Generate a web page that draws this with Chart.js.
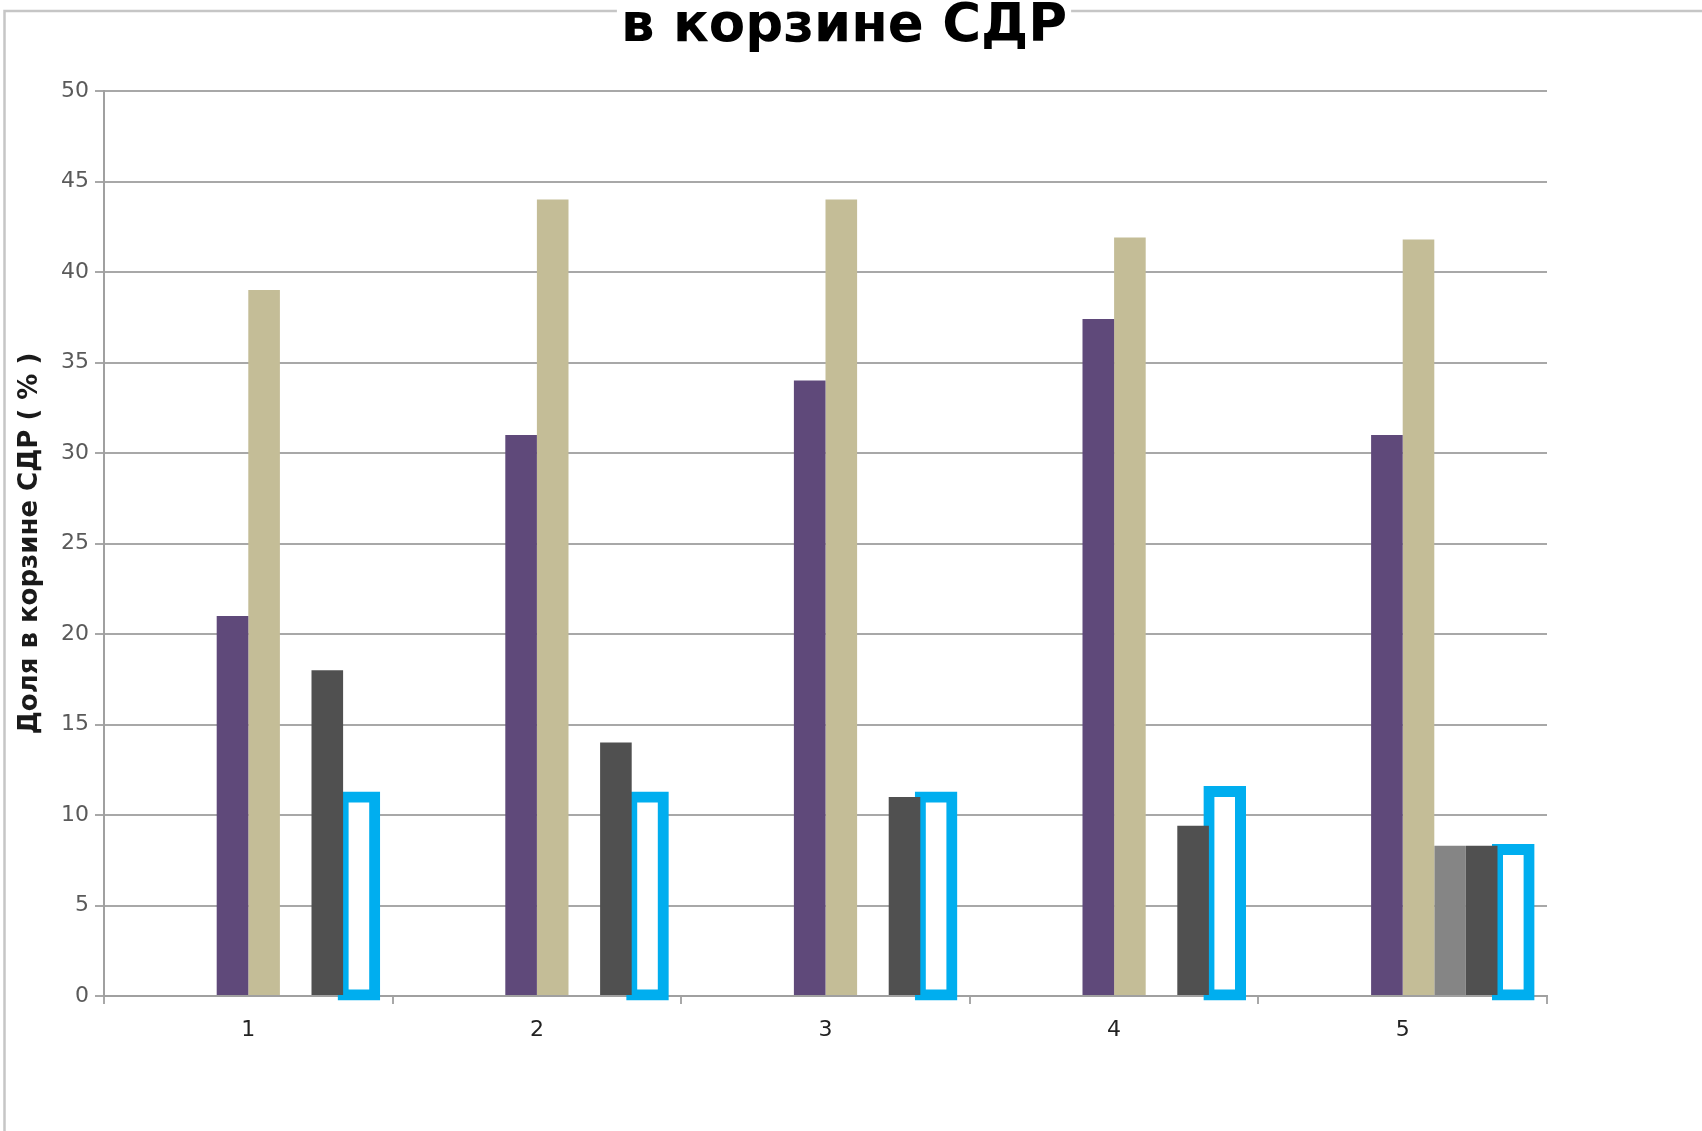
<!DOCTYPE html>
<html>
<head>
<meta charset="utf-8">
<script src="https://cdn.jsdelivr.net/npm/chart.js@4.4.1/dist/chart.umd.min.js"></script>
<style>
  html, body { margin: 0; padding: 0; background: #ffffff; }
  #wrap { width: 1702px; height: 1131px; position: relative; }
  canvas { display: block; }
</style>
</head>
<body>
<div id="wrap"><canvas id="chart" width="1702" height="1131"></canvas></div>
<script>
// Categories and the share of each currency series (percent)
const categories = ['1', '2', '3', '4', '5'];
const purpleSeries = [21, 31, 34, 37.4, 31];
const tanSeries = [39, 44, 44, 41.9, 41.8];
const greySeries = [null, null, null, null, 8.3];
const darkSeries = [18, 14, 11, 9.4, 8.3];
const outlineSeries = [11, 11, 11, 11.3, 8.1];
// three leading slots in each cluster carry no values
const emptySlot = [null, null, null, null, null];
const yTickValues = [0, 5, 10, 15, 20, 25, 30, 35, 40, 45, 50];

const chartTitle = 'в корзине СДР';
const yAxisTitle = 'Доля в корзине СДР ( % )';

const BOLD_SANS = '"DejaVu Sans", Verdana, sans-serif';
const TICK_FONT = { family: '"DejaVu Sans", Verdana, sans-serif', size: 22 };
const TITLE_CSS = 'bold 53px ' + BOLD_SANS;
const AXIS_TITLE_CSS = 'bold 26px ' + BOLD_SANS;
const TITLE_CX_SHIFT = -7;

function titleWidth(ctx) {
  ctx.save();
  ctx.font = TITLE_CSS;
  const w = ctx.measureText(chartTitle).width;
  ctx.restore();
  return w;
}

// outer frame of the chart object, broken where the title sits
const framePlugin = {
  id: 'frame',
  beforeDraw(chart) {
    const ctx = chart.ctx;
    ctx.save();
    ctx.fillStyle = '#ffffff';
    ctx.fillRect(0, 0, chart.width, chart.height);
    const w = titleWidth(ctx);
    const cx = chart.width / 2 + TITLE_CX_SHIFT;
    const y = 11;
    ctx.strokeStyle = '#c6c6c6';
    ctx.lineWidth = 2.5;
    ctx.beginPath();
    ctx.moveTo(4.5, chart.height);
    ctx.lineTo(4.5, y);
    ctx.lineTo(cx - w / 2 - 4, y);
    ctx.moveTo(cx + w / 2 + 4, y);
    ctx.lineTo(chart.width, y);
    ctx.stroke();
    ctx.restore();
  }
};

// chart heading and the rotated value-axis caption
const titlesPlugin = {
  id: 'titles',
  afterDraw(chart) {
    const ctx = chart.ctx;
    const area = chart.chartArea;
    ctx.save();
    ctx.fillStyle = '#000000';
    ctx.font = TITLE_CSS;
    ctx.textAlign = 'center';
    ctx.textBaseline = 'alphabetic';
    ctx.fillText(chartTitle, chart.width / 2 + TITLE_CX_SHIFT, 41);
    ctx.restore();

    ctx.save();
    ctx.fillStyle = '#1a1a1a';
    ctx.font = AXIS_TITLE_CSS;
    ctx.textAlign = 'center';
    ctx.textBaseline = 'middle';
    ctx.translate(30, (area.top + area.bottom) / 2);
    ctx.rotate(-Math.PI / 2);
    ctx.fillText(yAxisTitle, 0, 0);
    ctx.restore();
  }
};

const placeholder = (name) => ({
  label: name, data: emptySlot, backgroundColor: 'rgba(0,0,0,0)'
});

new Chart(document.getElementById('chart'), {
  type: 'bar',
  data: {
    labels: categories,
    datasets: [
      placeholder('a'),
      placeholder('b'),
      placeholder('c'),
      { label: 'purple', data: purpleSeries, backgroundColor: '#5F497A' },
      { label: 'tan', data: tanSeries, backgroundColor: '#C4BD97' },
      { label: 'grey', data: greySeries, backgroundColor: '#858585' },
      { label: 'dark', data: darkSeries, backgroundColor: '#505050' },
      {
        label: 'outline', data: outlineSeries,
        backgroundColor: '#ffffff', borderColor: '#00AEEF',
        borderWidth: 11, borderSkipped: false, inflateAmount: 5.5, clip: false
      }
    ]
  },
  options: {
    responsive: false,
    devicePixelRatio: 1,
    animation: false,
    categoryPercentage: 0.876,
    barPercentage: 1.0,
    layout: { padding: { top: 91, left: 0, right: 155, bottom: 0 } },
    plugins: {
      legend: { display: false },
      tooltip: { enabled: false },
      title: { display: false }
    },
    scales: {
      x: {
        grid: {
          drawOnChartArea: false, drawTicks: true, offset: true,
          tickLength: 8, color: '#a8a8a8', lineWidth: 2
        },
        border: { display: true, color: '#a0a0a0', width: 2 },
        ticks: { color: '#222222', font: TICK_FONT, padding: 13, maxRotation: 0 },
        afterFit(scale) { scale.height = 135; }
      },
      y: {
        min: 0, max: 50,
        afterBuildTicks(scale) { scale.ticks = yTickValues.map(v => ({ value: v })); },
        grid: { color: '#a8a8a8', lineWidth: 2, tickLength: 9 },
        border: { display: true, color: '#a0a0a0', width: 2 },
        ticks: { color: '#5a5a5a', font: TICK_FONT, padding: 6 },
        afterFit(scale) { scale.width = 104; }
      }
    }
  },
  plugins: [framePlugin, titlesPlugin]
});
</script>
</body>
</html>
